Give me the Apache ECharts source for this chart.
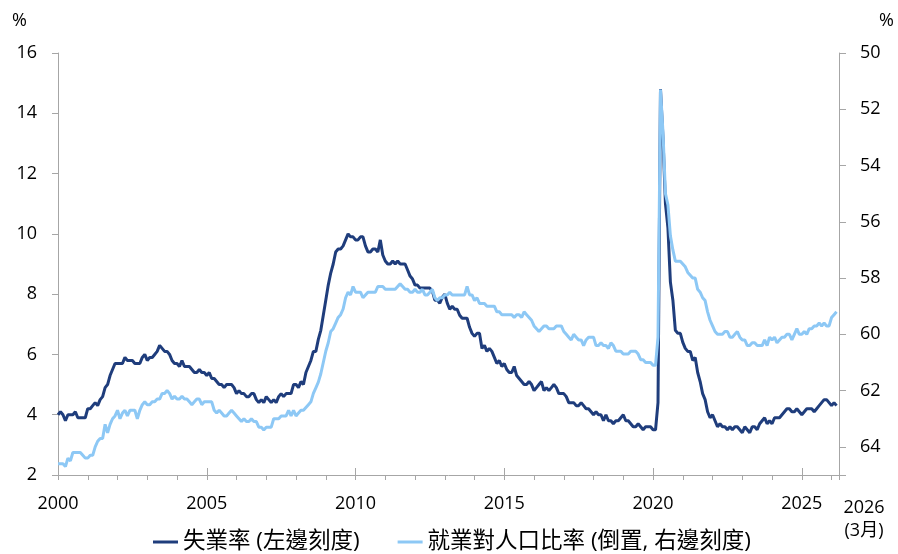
<!DOCTYPE html>
<html><head><meta charset="utf-8">
<script src="https://cdn.jsdelivr.net/npm/echarts@6/dist/echarts.min.js"></script>
<style>html,body{margin:0;padding:0;background:#fff}#c{width:898px;height:554px}</style>
</head><body><div id="c"></div>
<script>
// Monthly data, Jan 2000 .. Mar 2026
const startYear = 2000;
const unemploymentRate = [
4.0,4.1,4.0,3.8,4.0,4.0,4.0,4.1,3.9,3.9,3.9,3.9,
4.2,4.2,4.3,4.4,4.3,4.5,4.6,4.9,5.0,5.3,5.5,5.7,
5.7,5.7,5.7,5.9,5.8,5.8,5.8,5.7,5.7,5.7,5.9,6.0,
5.8,5.9,5.9,6.0,6.1,6.3,6.2,6.1,6.1,6.0,5.8,5.7,
5.7,5.6,5.8,5.6,5.6,5.6,5.5,5.4,5.4,5.5,5.4,5.4,
5.3,5.4,5.2,5.2,5.1,5.0,5.0,4.9,5.0,5.0,5.0,4.9,
4.7,4.8,4.7,4.7,4.6,4.6,4.7,4.7,4.5,4.4,4.5,4.4,
4.6,4.5,4.4,4.5,4.4,4.6,4.7,4.6,4.7,4.7,4.7,5.0,
5.0,4.9,5.1,5.0,5.4,5.6,5.8,6.1,6.1,6.5,6.8,7.3,
7.8,8.3,8.7,9.0,9.4,9.5,9.5,9.6,9.8,10.0,9.9,9.9,
9.8,9.8,9.9,9.9,9.6,9.4,9.4,9.5,9.5,9.4,9.8,9.3,
9.1,9.0,9.0,9.1,9.0,9.1,9.0,9.0,9.0,8.8,8.6,8.5,
8.3,8.3,8.2,8.2,8.2,8.2,8.2,8.1,7.8,7.8,7.7,7.9,
8.0,7.7,7.5,7.6,7.5,7.5,7.3,7.2,7.2,7.2,6.9,6.7,
6.6,6.7,6.7,6.2,6.3,6.1,6.2,6.1,5.9,5.7,5.8,5.6,
5.7,5.5,5.4,5.4,5.6,5.3,5.2,5.1,5.0,5.0,5.1,5.0,
4.8,4.9,5.0,5.1,4.8,4.9,4.8,4.9,5.0,4.9,4.7,4.7,
4.7,4.6,4.4,4.4,4.4,4.3,4.3,4.4,4.3,4.2,4.2,4.1,
4.0,4.1,4.0,4.0,3.8,4.0,3.8,3.8,3.7,3.8,3.8,3.9,
4.0,3.8,3.8,3.7,3.6,3.6,3.7,3.6,3.5,3.6,3.6,3.6,
3.5,3.5,4.4,14.8,13.2,11.0,10.2,8.4,7.8,6.8,6.7,6.7,
6.4,6.2,6.1,6.1,5.8,5.9,5.4,5.1,4.7,4.5,4.1,3.9,
4.0,3.8,3.6,3.7,3.6,3.6,3.5,3.6,3.5,3.6,3.6,3.5,
3.4,3.6,3.5,3.4,3.6,3.6,3.5,3.7,3.8,3.9,3.7,3.8,
3.7,3.9,3.9,3.9,4.0,4.1,4.2,4.2,4.1,4.1,4.2,4.1,
4.0,4.1,4.2,4.2,4.2,4.1,4.2,4.3,4.4,4.5,4.5,4.4,
4.3,4.4,4.3
];
const employmentPopRatio = [
64.6,64.6,64.6,64.7,64.4,64.5,64.2,64.2,64.2,64.2,64.3,64.4,
64.4,64.3,64.3,64.0,63.8,63.7,63.7,63.2,63.5,63.2,63.0,62.9,
62.7,63.0,62.8,62.7,62.9,62.7,62.7,62.7,63.0,62.7,62.5,62.4,
62.5,62.5,62.4,62.4,62.3,62.3,62.1,62.1,62.0,62.1,62.3,62.2,
62.3,62.3,62.2,62.3,62.3,62.4,62.5,62.4,62.3,62.3,62.5,62.4,
62.4,62.4,62.4,62.7,62.8,62.7,62.8,62.9,62.9,62.8,62.7,62.8,
62.9,63.0,63.1,63.0,63.1,63.1,63.0,63.1,63.1,63.3,63.3,63.4,
63.3,63.3,63.3,63.0,63.0,63.0,62.9,62.9,62.9,62.7,62.9,62.7,
62.9,62.8,62.7,62.7,62.6,62.5,62.4,62.1,61.9,61.7,61.4,61.0,
60.6,60.3,59.9,59.8,59.6,59.4,59.3,59.1,58.7,58.5,58.6,58.3,
58.5,58.5,58.5,58.7,58.6,58.5,58.5,58.5,58.5,58.3,58.3,58.3,
58.4,58.4,58.4,58.4,58.4,58.3,58.2,58.3,58.4,58.4,58.5,58.5,
58.4,58.5,58.5,58.4,58.6,58.6,58.5,58.4,58.7,58.8,58.7,58.7,
58.6,58.6,58.5,58.6,58.6,58.6,58.6,58.6,58.6,58.3,58.6,58.6,
58.8,58.7,58.9,58.9,58.9,59.0,59.0,59.0,59.0,59.2,59.2,59.3,
59.3,59.3,59.3,59.3,59.4,59.3,59.3,59.4,59.2,59.3,59.4,59.5,
59.7,59.8,59.9,59.8,59.7,59.7,59.8,59.8,59.8,59.7,59.7,59.7,
59.9,60.0,60.1,60.2,60.0,60.1,60.2,60.2,60.4,60.2,60.1,60.1,
60.1,60.4,60.4,60.3,60.4,60.4,60.5,60.3,60.4,60.6,60.6,60.6,
60.7,60.7,60.7,60.6,60.6,60.6,60.7,60.9,60.9,61.0,61.0,61.0,
61.1,61.1,60.1,51.3,52.8,55.0,55.4,56.5,57.0,57.4,57.4,57.4,
57.5,57.6,57.8,57.9,58.0,58.0,58.4,58.5,58.7,58.8,59.2,59.5,
59.7,59.9,60.0,60.0,60.0,59.9,59.9,60.1,60.1,60.0,59.9,60.1,
60.2,60.2,60.4,60.4,60.3,60.3,60.4,60.4,60.4,60.2,60.4,60.1,
60.2,60.1,60.3,60.2,60.1,60.1,60.0,60.0,60.2,60.0,59.8,60.0,
60.0,59.9,60.0,59.8,59.8,59.7,59.7,59.6,59.7,59.6,59.7,59.7,
59.4,59.3,59.2
];
const seriesNames = ['失業率 (左邊刻度)', '就業對人口比率 (倒置, 右邊刻度)'];
const xRange = {min: 2000, max: 2026.25, labelInterval: 5};
const leftAxisRange = {min: 2, max: 16, interval: 2};
const rightAxisRange = {min: 50, max: 65, interval: 2, lastLabel: 64};
const endLabel = ['2026', '(3月)'];

const toPoints = arr => arr.map((v, i) => [startYear + i / 12, v]);
const numFont = "'Open Sans','Noto Sans CJK TC',sans-serif";
const axisGray = '#a6a6a6';
const chart = echarts.init(document.getElementById('c'));

const baseX = {type: 'value', min: xRange.min, max: xRange.max, position: 'bottom', splitLine: {show: false}};
chart.setOption({
  animation: false,
  backgroundColor: '#fff',
  grid: {left: 58, right: 59, top: 53, bottom: 79, containLabel: false},
  legend: {
    left: 153, top: 530, padding: 0, itemWidth: 25, itemHeight: 3, itemGap: 38, icon: 'rect',
    textStyle: {fontSize: 22.5, color: '#000', fontFamily: numFont, lineHeight: 24},
    data: seriesNames
  },
  xAxis: [
    Object.assign({}, baseX, {
      interval: xRange.labelInterval,
      axisLine: {show: true, lineStyle: {color: axisGray, width: 1}},
      axisTick: {show: false},
      axisLabel: {margin: 20, fontSize: 18, color: '#000', fontFamily: numFont, showMaxLabel: false,
        formatter: v => (v % 1 === 0 ? String(v) : '')}
    }),
    Object.assign({}, baseX, {
      interval: 1,
      axisLine: {show: false},
      axisTick: {show: true, length: 5, lineStyle: {color: axisGray}},
      axisLabel: {show: false}
    }),
    Object.assign({}, baseX, {
      interval: xRange.labelInterval,
      axisLine: {show: false},
      axisTick: {show: true, inside: true, length: 7, lineStyle: {color: axisGray}},
      axisLabel: {show: false}
    })
  ],
  yAxis: [
    {type: 'value', position: 'left', min: leftAxisRange.min, max: leftAxisRange.max, interval: leftAxisRange.interval,
      splitLine: {show: false},
      axisLine: {show: true, lineStyle: {color: axisGray}},
      axisTick: {show: true, length: 6, lineStyle: {color: axisGray}},
      axisLabel: {margin: 21, fontSize: 18, color: '#000', fontFamily: numFont}},
    {type: 'value', position: 'right', inverse: true, min: rightAxisRange.min, max: rightAxisRange.max, interval: rightAxisRange.interval,
      splitLine: {show: false},
      axisLine: {show: true, lineStyle: {color: axisGray}},
      axisTick: {show: true, length: 7, lineStyle: {color: axisGray}},
      axisLabel: {margin: 21, fontSize: 18, color: '#000', fontFamily: numFont,
        formatter: v => (v <= rightAxisRange.lastLabel ? String(v) : '')}}
  ],
  graphic: [
    {type: 'text', left: 12, top: 12, style: {text: '%', fontSize: 18, fill: '#000', fontFamily: numFont}},
    {type: 'text', right: 4, top: 12, style: {text: '%', fontSize: 18, fill: '#000', fontFamily: numFont}},
    {type: 'text', x: 864, y: 508, style: {text: endLabel[0], fontSize: 18, fill: '#000', fontFamily: numFont, align: 'center', verticalAlign: 'middle'}},
    {type: 'text', x: 864, y: 531, style: {text: endLabel[1], fontSize: 18, fill: '#000', fontFamily: numFont, align: 'center', verticalAlign: 'middle'}}
  ],
  series: [
    {name: seriesNames[0], type: 'line', xAxisIndex: 0, yAxisIndex: 0, data: toPoints(unemploymentRate),
      showSymbol: false, symbol: 'none', lineStyle: {color: '#1f3d7c', width: 3}, itemStyle: {color: '#1f3d7c'}},
    {name: seriesNames[1], type: 'line', xAxisIndex: 0, yAxisIndex: 1, data: toPoints(employmentPopRatio),
      showSymbol: false, symbol: 'none', lineStyle: {color: '#8dc8f5', width: 3}, itemStyle: {color: '#8dc8f5'}}
  ]
});
</script></body></html>
